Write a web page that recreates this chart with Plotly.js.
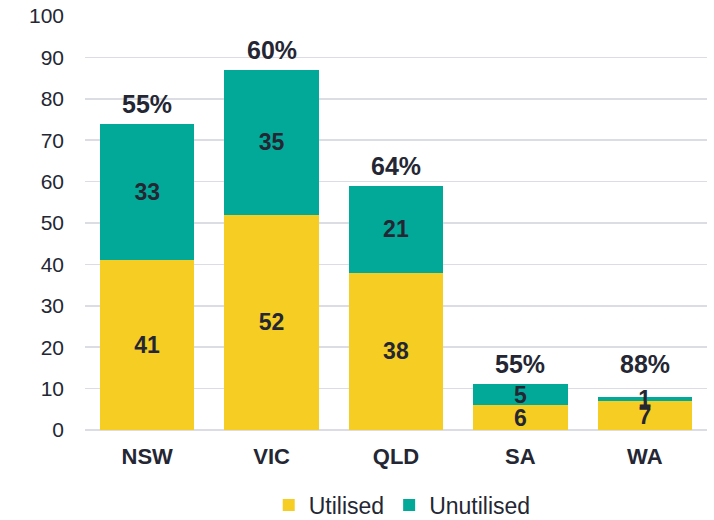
<!DOCTYPE html>
<html>
<head>
<meta charset="utf-8">
<script src="https://cdn.plot.ly/plotly-3.0.1.min.js"></script>
<style>html,body{margin:0;padding:0;background:#fff;}#chart{width:714px;height:520px;}</style>
</head>
<body>
<div id="chart"></div>
<script>
const categories = ["NSW", "VIC", "QLD", "SA", "WA"];
const utilised = [41, 52, 38, 6, 7];
const unutilised = [33, 35, 21, 5, 1];
const pctLabels = ["55%", "60%", "64%", "55%", "88%"];

const textColor = "#242733";
const fontFam = "Liberation Sans, Arial, sans-serif";

const traces = [
  {
    type: "bar", name: "Utilised", x: categories, y: utilised,
    marker: {color: "#F6CD23"},
    text: utilised.map(String), textposition: "inside", insidetextanchor: "middle", textangle: 0,
    textfont: {family: fontFam, size: 23, color: textColor, weight: "bold"},
    cliponaxis: false, hoverinfo: "none"
  },
  {
    type: "bar", name: "Unutilised", x: categories, y: unutilised,
    marker: {color: "#03A998"},
    text: unutilised.map(String), textposition: "inside", insidetextanchor: "middle", textangle: 0,
    textfont: {family: fontFam, size: 23, color: textColor, weight: "bold"},
    cliponaxis: false, hoverinfo: "none"
  }
];

// percentage labels sit above each stack; small stacks share a minimum label height
const totals = categories.map((c, i) => utilised[i] + unutilised[i]);
const minLabelBase = Math.max(totals[3], totals[4]);
const annotations = categories.map((c, i) => ({
  x: c, y: Math.max(totals[i], i >= 3 ? minLabelBase : 0), xref: "x", yref: "y",
  text: "<b>" + pctLabels[i] + "</b>", showarrow: false,
  yanchor: "bottom", yshift: 4,
  font: {family: fontFam, size: 25, color: textColor}
}));

const layout = {
  width: 714, height: 520,
  margin: {l: 85, r: 7, t: 16, b: 90, autoexpand: false},
  barmode: "stack", bargap: 0.24,
  paper_bgcolor: "#fff", plot_bgcolor: "#fff",
  showlegend: true,
  uniformtext: {minsize: 23, mode: "show"},
  legend: {orientation: "h", x: 0.51, xanchor: "center", y: -0.181, yanchor: "middle",
    font: {family: fontFam, size: 23, color: textColor}, itemwidth: 30, traceorder: "normal"},
  xaxis: {
    tickfont: {family: fontFam, size: 22, color: textColor, weight: "bold"},
    showgrid: false, showline: false, zeroline: false, ticks: "", ticklabelstandoff: 11
  },
  yaxis: {
    range: [0, 100], dtick: 10, tick0: 0,
    tickfont: {family: fontFam, size: 21, color: textColor},
    showgrid: true, gridcolor: "#DCDDE4", gridwidth: 1.5,
    zeroline: true, zerolinecolor: "#DCDDE4", zerolinewidth: 1.5,
    showline: false, ticks: "", ticklabelstandoff: 20
  },
  annotations: annotations
};

Plotly.newPlot("chart", traces, layout, {displayModeBar: false, staticPlot: true});
</script>
</body>
</html>
